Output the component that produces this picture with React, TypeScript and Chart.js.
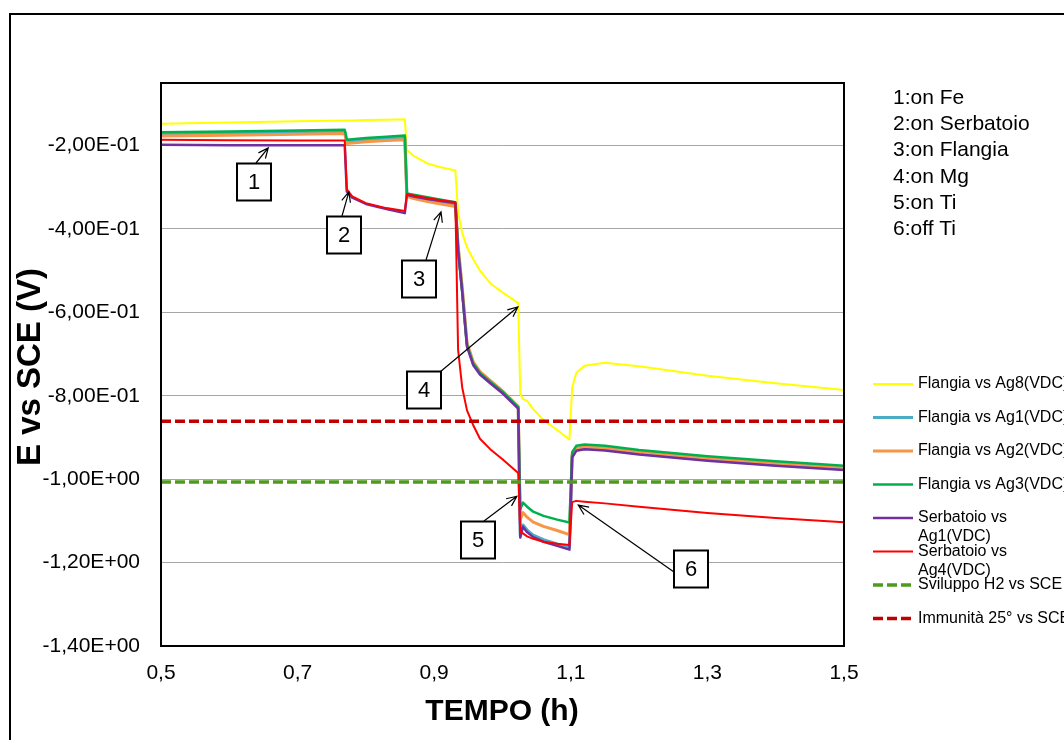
import React, { useEffect, useRef } from "react";
import { Chart, registerables } from "chart.js";

Chart.register(...registerables);

// ---------- DATA ----------
const timeH = [
  0.5, 0.6, 0.7, 0.769, 0.772, 0.78, 0.8, 0.83, 0.857, 0.86, 0.87, 0.89, 0.91,
  0.931, 0.935, 0.941, 0.948, 0.957, 0.967, 0.982, 1.0, 1.023, 1.026, 1.03,
  1.036, 1.045, 1.06, 1.08, 1.098, 1.102, 1.108, 1.12, 1.15, 1.2, 1.3, 1.4, 1.5,
];

const flangiaAg8 = [
  -0.148, -0.145, -0.142, -0.14, -0.14, -0.14, -0.139, -0.138, -0.137, -0.21,
  -0.225, -0.243, -0.252, -0.26, -0.36, -0.41, -0.444, -0.472, -0.5, -0.53,
  -0.552, -0.578, -0.795, -0.808, -0.812, -0.832, -0.858, -0.882, -0.905, -0.78,
  -0.745, -0.728, -0.721, -0.729, -0.752, -0.77, -0.786,
];

const flangiaAg1 = [
  -0.172, -0.17, -0.168, -0.166, -0.19, -0.189, -0.186, -0.183, -0.181, -0.318,
  -0.322, -0.329, -0.335, -0.341, -0.445, -0.545, -0.676, -0.721, -0.745,
  -0.766, -0.791, -0.828, -1.135, -1.11, -1.122, -1.134, -1.145, -1.155, -1.164,
  -0.945, -0.929, -0.925, -0.928, -0.938, -0.953, -0.965, -0.975,
];

const flangiaAg2 = [
  -0.177, -0.175, -0.173, -0.171, -0.195, -0.194, -0.191, -0.188, -0.186,
  -0.322, -0.327, -0.334, -0.34, -0.346, -0.44, -0.54, -0.673, -0.718, -0.742,
  -0.763, -0.788, -0.825, -1.097, -1.08, -1.091, -1.103, -1.113, -1.123, -1.133,
  -0.942, -0.926, -0.922, -0.925, -0.935, -0.95, -0.962, -0.972,
];

const flangiaAg3 = [
  -0.168, -0.166, -0.164, -0.162, -0.186, -0.185, -0.182, -0.179, -0.176,
  -0.315, -0.318, -0.324, -0.33, -0.336, -0.45, -0.55, -0.678, -0.722, -0.745,
  -0.766, -0.79, -0.827, -1.072, -1.056, -1.066, -1.078, -1.088, -1.097, -1.104,
  -0.935, -0.92, -0.917, -0.92, -0.93, -0.945, -0.957, -0.968,
];

const serbatoioAg1 = [
  -0.198, -0.199, -0.199, -0.199, -0.31, -0.325, -0.34, -0.352, -0.362, -0.318,
  -0.322, -0.328, -0.333, -0.338, -0.45, -0.55, -0.682, -0.726, -0.749, -0.77,
  -0.794, -0.831, -1.14, -1.114, -1.127, -1.139, -1.15, -1.16, -1.169, -0.948,
  -0.932, -0.928, -0.931, -0.941, -0.956, -0.968, -0.978,
];

const serbatoioAg4 = [
  -0.186, -0.187, -0.188, -0.188, -0.305, -0.322, -0.338, -0.35, -0.357,
  -0.317, -0.32, -0.326, -0.331, -0.336, -0.69, -0.78, -0.835, -0.87, -0.903,
  -0.928, -0.952, -0.985, -1.126, -1.13, -1.137, -1.143, -1.15, -1.155, -1.158,
  -1.055, -1.052, -1.054, -1.058, -1.066, -1.081, -1.093, -1.103,
];

const sviluppoH2Level = -1.007;
const immunitaLevel = -0.861;

const seriesNames = [
  "Flangia vs Ag8(VDC)",
  "Flangia vs Ag1(VDC)",
  "Flangia vs Ag2(VDC)",
  "Flangia vs Ag3(VDC)",
  "Serbatoio vs Ag1(VDC)",
  "Serbatoio vs Ag4(VDC)",
  "Sviluppo H2 vs SCE",
  "Immunità 25° vs SCE",
];

const xTickValues = [0.5, 0.7, 0.9, 1.1, 1.3, 1.5];
const yTickValues = [-1.4, -1.2, -1.0, -0.8, -0.6, -0.4, -0.2];
const xRange = [0.5, 1.5];
const yRange = [-1.4, -0.05];

const eventNotes = [
  "1:on Fe",
  "2:on Serbatoio",
  "3:on Flangia",
  "4:on Mg",
  "5:on Ti",
  "6:off Ti",
];
const markerLabels = ["1", "2", "3", "4", "5", "6"];
const markerTipT = [0.657, 0.775, 0.91, 1.0225, 1.021, 1.111];
const markerTipV = [-0.2055, -0.311, -0.359, -0.587, -1.041, -1.062];

// ---------- STYLE / LAYOUT ----------
const FONT = "'Liberation Sans', Arial, sans-serif";
const colors = [
  "#FFFF00",
  "#4BACC6",
  "#F79646",
  "#00B050",
  "#7030A0",
  "#FF0000",
  "#4E9A1E",
  "#C00000",
];
const widths = [2, 3, 3, 2.5, 2.5, 2, 3.5, 3.5];
const DASH = [10, 4];
const boxCenters = [
  [254, 182],
  [344, 235],
  [419, 279],
  [424, 390],
  [478, 540],
  [691, 569],
];
const arrowStarts = [
  [256, 163],
  [342, 216],
  [426, 260],
  [440, 372],
  [484, 521],
  [674, 572],
];

function fmtSci(v: number) {
  const s = Number(v).toExponential(2);
  const [m, e] = s.split("e");
  const en = parseInt(e, 10);
  const sign = en < 0 ? "-" : "+";
  return m.replace(".", ",") + "E" + sign + String(Math.abs(en)).padStart(2, "0");
}

function arrow(ctx: CanvasRenderingContext2D, x1: number, y1: number, x2: number, y2: number) {
  ctx.beginPath();
  ctx.moveTo(x1, y1);
  ctx.lineTo(x2, y2);
  const a = Math.atan2(y2 - y1, x2 - x1);
  const L = 11;
  const w = 0.42;
  ctx.moveTo(x2 - L * Math.cos(a - w), y2 - L * Math.sin(a - w));
  ctx.lineTo(x2, y2);
  ctx.lineTo(x2 - L * Math.cos(a + w), y2 - L * Math.sin(a + w));
  ctx.stroke();
}

const overlayPlugin = {
  id: "overlay",
  beforeDraw(chart: any) {
    const ctx = chart.ctx;
    ctx.save();
    ctx.fillStyle = "#ffffff";
    ctx.fillRect(0, 0, chart.width, chart.height);
    ctx.restore();
  },
  afterDatasetsDraw(chart: any) {
    const ctx: CanvasRenderingContext2D = chart.ctx;
    const a = chart.chartArea;
    const xs = chart.scales.x;
    const ys = chart.scales.y;
    ctx.save();
    ctx.strokeStyle = "#000";
    ctx.lineWidth = 2;
    ctx.strokeRect(a.left, a.top, a.right - a.left, a.bottom - a.top);

    ctx.lineWidth = 2;
    ctx.beginPath();
    ctx.moveTo(10, chart.height);
    ctx.lineTo(10, 14);
    ctx.lineTo(chart.width, 14);
    ctx.stroke();

    ctx.fillStyle = "#000";
    ctx.font = `bold 30px ${FONT}`;
    ctx.textAlign = "center";
    ctx.textBaseline = "middle";
    ctx.fillText("TEMPO (h)", 502, 712);
    ctx.save();
    ctx.translate(31, 367);
    ctx.rotate(-Math.PI / 2);
    ctx.font = `bold 33px ${FONT}`;
    ctx.fillText("E vs SCE (V)", 0, 0);
    ctx.restore();

    ctx.font = `21px ${FONT}`;
    ctx.textAlign = "left";
    eventNotes.forEach((t, i) => ctx.fillText(t, 893, 98 + i * 26.3));

    ctx.lineWidth = 1.2;
    markerLabels.forEach((lab, i) => {
      const tx = xs.getPixelForValue(markerTipT[i]);
      const ty = ys.getPixelForValue(markerTipV[i]);
      arrow(ctx, arrowStarts[i][0], arrowStarts[i][1], tx, ty);
    });
    markerLabels.forEach((lab, i) => {
      const [cx, cy] = boxCenters[i];
      ctx.fillStyle = "#fff";
      ctx.fillRect(cx - 17, cy - 18.5, 34, 37);
      ctx.lineWidth = 2;
      ctx.strokeStyle = "#000";
      ctx.strokeRect(cx - 17, cy - 18.5, 34, 37);
      ctx.fillStyle = "#000";
      ctx.font = `22px ${FONT}`;
      ctx.textAlign = "center";
      ctx.fillText(lab, cx, cy + 1);
    });

    ctx.font = `16px ${FONT}`;
    ctx.textAlign = "left";
    chart.data.datasets.forEach((ds: any, i: number) => {
      const y = 384 + i * 33.5;
      ctx.strokeStyle = ds.borderColor;
      ctx.lineWidth = ds.borderWidth;
      ctx.setLineDash(ds.borderDash || []);
      ctx.beginPath();
      ctx.moveTo(873, y);
      ctx.lineTo(913, y);
      ctx.stroke();
      ctx.setLineDash([]);
      ctx.fillStyle = "#000";
      const label: string = ds.label;
      if (ctx.measureText(label).width > 163) {
        const k = label.lastIndexOf(" ");
        ctx.fillText(label.slice(0, k), 918, y);
        ctx.fillText(label.slice(k + 1), 918, y + 19);
      } else {
        ctx.fillText(label, 918, y);
      }
    });
    ctx.restore();
  },
};

export default function App() {
  const ref = useRef<HTMLCanvasElement | null>(null);
  useEffect(() => {
    if (!ref.current) return;
    const series = [
      flangiaAg8,
      flangiaAg1,
      flangiaAg2,
      flangiaAg3,
      serbatoioAg1,
      serbatoioAg4,
    ];
    const datasets: any[] = series.map((vals, i) => ({
      label: seriesNames[i],
      data: timeH.map((t, k) => ({ x: t, y: vals[k] })),
      borderColor: colors[i],
      backgroundColor: colors[i],
      borderWidth: widths[i],
      borderJoinStyle: "round",
      pointRadius: 0,
      tension: 0,
      order: 20 - i,
    }));
    [sviluppoH2Level, immunitaLevel].forEach((lvl, j) => {
      const i = 6 + j;
      datasets.push({
        label: seriesNames[i],
        data: xRange.map((t) => ({ x: t, y: lvl })),
        borderColor: colors[i],
        backgroundColor: colors[i],
        borderWidth: widths[i],
        borderDash: DASH,
        pointRadius: 0,
        order: 20 - i,
      });
    });
    const chart = new Chart(ref.current, {
      type: "line",
      data: { datasets },
      plugins: [overlayPlugin],
      options: {
        animation: false,
        responsive: false,
        devicePixelRatio: 1,
        layout: { padding: { top: 83, right: 220, left: 0, bottom: 0 } },
        plugins: { legend: { display: false }, tooltip: { enabled: false } },
        scales: {
          x: {
            type: "linear",
            min: xRange[0],
            max: xRange[1],
            afterFit: (s: any) => {
              s.height = 94;
            },
            afterBuildTicks: (s: any) => {
              s.ticks = xTickValues.map((v) => ({ value: v }));
            },
            grid: { display: false, drawTicks: false },
            border: { display: false },
            ticks: {
              padding: 15,
              color: "#000",
              font: { family: FONT, size: 21 },
              maxRotation: 0,
              callback: (v: any) => Number(v).toFixed(1).replace(".", ","),
            },
          },
          y: {
            type: "linear",
            min: yRange[0],
            max: yRange[1],
            afterFit: (s: any) => {
              s.width = 161;
            },
            afterBuildTicks: (s: any) => {
              s.ticks = yTickValues.map((v) => ({ value: v }));
            },
            grid: { color: "#A6A6A6", lineWidth: 1, drawTicks: false },
            border: { display: false },
            ticks: {
              padding: 21,
              color: "#000",
              font: { family: FONT, size: 21 },
              callback: (v: any) => fmtSci(Number(v)),
            },
          },
        },
      },
    });
    return () => chart.destroy();
  }, []);
  return (
    <div style={{ position: "absolute", left: 0, top: 0, width: 1064, height: 740 }}>
      <canvas ref={ref} width={1064} height={740} style={{ width: 1064, height: 740, display: "block" }} />
    </div>
  );
}
